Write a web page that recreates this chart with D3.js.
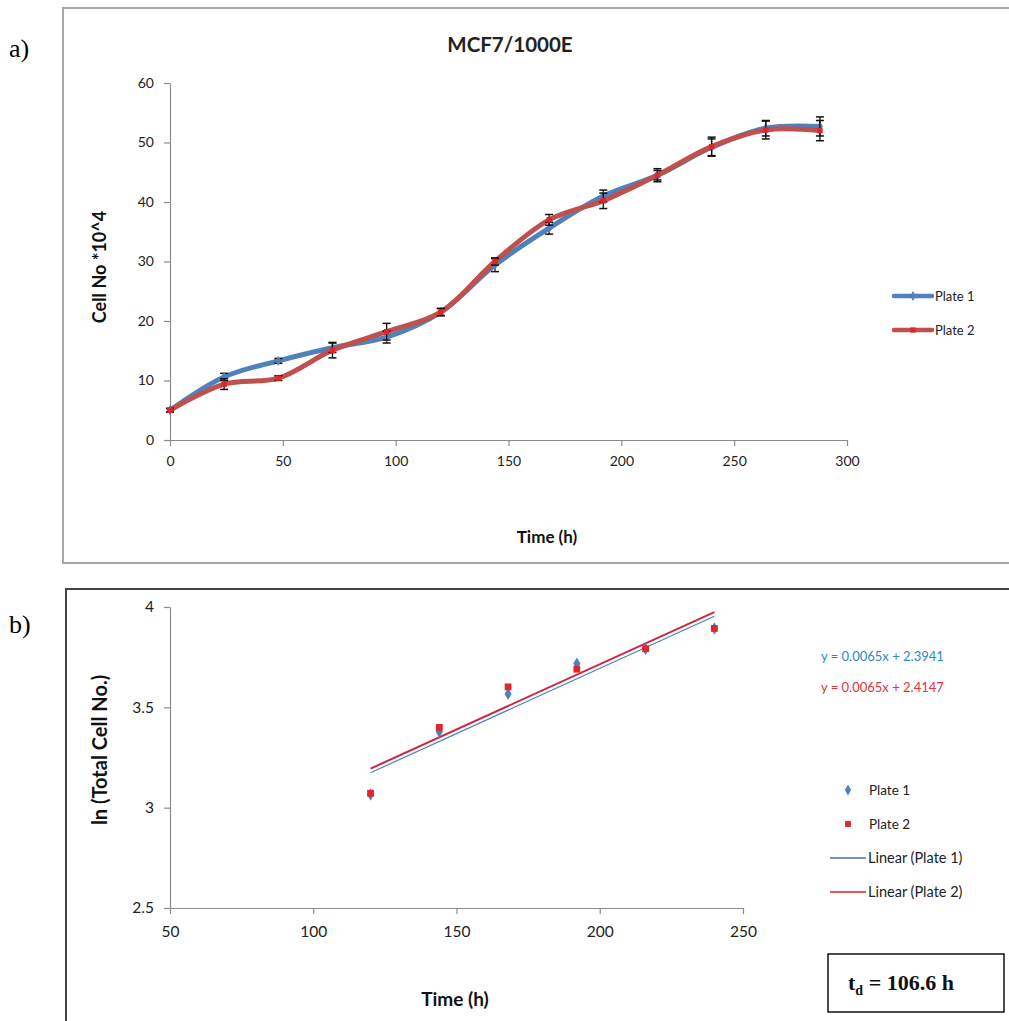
<!DOCTYPE html>
<html>
<head>
<meta charset="utf-8">
<script src="https://cdn.jsdelivr.net/npm/d3@7/dist/d3.min.js"></script>
<style>
  html, body { margin: 0; padding: 0; background: #fff; }
  svg { display: block; }
  text { font-family: Lato, "Open Sans", "Noto Sans", sans-serif; }
</style>
</head>
<body>
<svg id="fig" width="1009" height="1021"></svg>
<script>
// ---- Growth curve (panel a) ----
const hours = [0, 24, 48, 72, 96, 120, 144, 168, 192, 216, 240, 264, 288];
const plate1Cells = [5.0, 10.6, 13.3, 15.5, 17.3, 21.5, 29.4, 35.6, 41.0, 44.5, 49.2, 52.4, 52.7];
const plate1Err   = [0.3, 0.6, 0.4, 0.8, 1.0, 0.6, 1.1, 1.0, 1.0, 0.8, 1.4, 1.3, 1.6];
const plate2Cells = [5.0, 9.4, 10.4, 15.1, 18.2, 21.5, 30.0, 37.0, 40.2, 44.5, 49.3, 52.1, 52.0];
const plate2Err   = [0.3, 0.9, 0.4, 1.3, 1.4, 0.6, 0.6, 0.9, 1.3, 1.1, 1.6, 1.5, 1.7];
const growthXTicks = [0, 50, 100, 150, 200, 250, 300];
const growthYTicks = [0, 10, 20, 30, 40, 50, 60];

// ---- Log-phase fit (panel b) ----
const logHours = [120, 144, 168, 192, 216, 240];
const plate1Ln = [3.065, 3.378, 3.567, 3.718, 3.792, 3.893];
const plate2Ln = [3.072, 3.400, 3.602, 3.690, 3.792, 3.893];
const fitSlope = [0.0065, 0.0065];
const fitIntercept = [2.3941, 2.4147];
const logXTicks = [50, 100, 150, 200, 250];
const logYTicks = [2.5, 3, 3.5, 4];
const doublingTime = 106.6;

const BLUE = "#4f81bd", RED = "#c0504d", RED_MK = "#e0262b";
const svg = d3.select("#fig");

// panel frames and letters
svg.append("rect").attr("x", 63).attr("y", 8).attr("width", 1000).attr("height", 555)
  .attr("fill", "none").attr("stroke", "#a8a8a8").attr("stroke-width", 2);
svg.append("rect").attr("x", 66).attr("y", 589).attr("width", 1000).attr("height", 500)
  .attr("fill", "none").attr("stroke", "#444").attr("stroke-width", 2);
svg.append("text").attr("x", 9).attr("y", 57).text("a)")
  .style("font-family", "'Liberation Serif', serif").style("font-size", "26px");
svg.append("text").attr("x", 9).attr("y", 633).text("b)")
  .style("font-family", "'Liberation Serif', serif").style("font-size", "26px");

function styleAxis(g, size) {
  g.selectAll(".domain").attr("stroke", "#8c8c8c").attr("stroke-width", 1.2);
  g.selectAll(".tick line").attr("stroke", "#8c8c8c").attr("stroke-width", 1.2);
  g.selectAll(".tick text").attr("fill", "#222").style("font-size", size + "px")
    .style("font-family", "Lato, 'Open Sans', sans-serif");
}

// ================= Panel a =================
const xA = d3.scaleLinear().domain([0, 300]).range([170, 847]);
const yA = d3.scaleLinear().domain([0, 60]).range([440, 83]);

const gxA = svg.append("g").attr("transform", `translate(0,${yA(0)})`)
  .call(d3.axisBottom(xA).tickValues(growthXTicks).tickSize(6).tickPadding(10).tickSizeOuter(0));
styleAxis(gxA, 14);
const gyA = svg.append("g").attr("transform", `translate(${xA(0)},0)`)
  .call(d3.axisLeft(yA).tickValues(growthYTicks).tickSize(6).tickPadding(10).tickSizeOuter(0));
styleAxis(gyA, 14);

svg.append("text").attr("x", 510).attr("y", 52).attr("text-anchor", "middle")
  .style("font-size", "20.5px").style("font-weight", "bold").attr("fill", "#222").text("MCF7/1000E");
svg.append("text").attr("transform", "translate(106,267) rotate(-90)").attr("text-anchor", "middle")
  .style("font-size", "18px").style("font-weight", "bold").attr("fill", "#111").text("Cell No *10^4");
svg.append("text").attr("x", 547).attr("y", 543).attr("text-anchor", "middle")
  .style("font-size", "17px").style("font-weight", "bold").attr("fill", "#111").text("Time (h)");

const seriesA = [
  { name: "Plate 1", vals: plate1Cells, err: plate1Err, color: BLUE, mk: BLUE, sym: d3.symbolDiamond },
  { name: "Plate 2", vals: plate2Cells, err: plate2Err, color: RED, mk: RED_MK, sym: d3.symbolSquare }
];
const lineA = d3.line().x(d => xA(d[0])).y(d => yA(d[1])).curve(d3.curveCatmullRom.alpha(0.5));

seriesA.forEach(s => {
  const pts = hours.map((h, i) => [h, s.vals[i]]);
  svg.append("path").attr("d", lineA(pts)).attr("fill", "none")
    .attr("stroke", s.color).attr("stroke-width", 5).attr("stroke-linejoin", "round")
    .attr("stroke-linecap", "round");
});
seriesA.forEach(s => {
  const g = svg.append("g");
  hours.forEach((h, i) => {
    const x = xA(h), y0 = yA(s.vals[i] - s.err[i]), y1 = yA(s.vals[i] + s.err[i]);
    g.append("line").attr("x1", x).attr("x2", x).attr("y1", y0).attr("y2", y1)
      .attr("stroke", "#111").attr("stroke-width", 1.3);
    [y0, y1].forEach(y => g.append("line").attr("x1", x - 4).attr("x2", x + 4)
      .attr("y1", y).attr("y2", y).attr("stroke", "#111").attr("stroke-width", 1.5));
  });
  hours.forEach((h, i) => {
    g.append("path").attr("d", d3.symbol(s.sym, 30)())
      .attr("transform", `translate(${xA(h)},${yA(s.vals[i])})`).attr("fill", s.mk);
  });
});

// legend a
seriesA.forEach((s, i) => {
  const y = 296 + i * 34;
  svg.append("line").attr("x1", 894).attr("x2", 932).attr("y1", y).attr("y2", y)
    .attr("stroke", s.color).attr("stroke-width", 4.5).attr("stroke-linecap", "round");
  svg.append("path").attr("d", d3.symbol(s.sym, 28)()).attr("transform", `translate(913,${y})`).attr("fill", s.mk);
  svg.append("text").attr("x", 935).attr("y", y + 4.5).style("font-size", "13px").attr("fill", "#222").text(s.name);
});

// ================= Panel b =================
const xB = d3.scaleLinear().domain([50, 250]).range([170, 743]);
const yB = d3.scaleLinear().domain([2.5, 4]).range([908, 607]);

const gxB = svg.append("g").attr("transform", `translate(0,${yB(2.5)})`)
  .call(d3.axisBottom(xB).tickValues(logXTicks).tickSize(6).tickPadding(12).tickSizeOuter(0));
styleAxis(gxB, 15.5);
const gyB = svg.append("g").attr("transform", `translate(${xB(50)},0)`)
  .call(d3.axisLeft(yB).tickValues(logYTicks).tickFormat(d3.format("")).tickSize(6).tickPadding(10).tickSizeOuter(0));
styleAxis(gyB, 15.5);

svg.append("text").attr("transform", "translate(107,750) rotate(-90)").attr("text-anchor", "middle")
  .style("font-size", "20px").style("font-weight", "bold").attr("fill", "#111").text("ln (Total Cell No.)");
svg.append("text").attr("x", 455).attr("y", 1006).attr("text-anchor", "middle")
  .style("font-size", "19px").style("font-weight", "bold").attr("fill", "#111").text("Time (h)");

// linear fits
const fitColors = [BLUE, "#d0243a"];
[0, 1].forEach(k => {
  const x0 = d3.min(logHours), x1 = d3.max(logHours);
  svg.append("line")
    .attr("x1", xB(x0)).attr("y1", yB(fitSlope[k] * x0 + fitIntercept[k]))
    .attr("x2", xB(x1)).attr("y2", yB(fitSlope[k] * x1 + fitIntercept[k]))
    .attr("stroke", fitColors[k]).attr("stroke-width", k ? 2 : 1.2);
});

// points
logHours.forEach((h, i) => {
  svg.append("path").attr("d", d3.symbol(d3.symbolDiamond, 44)())
    .attr("transform", `translate(${xB(h)},${yB(plate1Ln[i])})`).attr("fill", BLUE);
});
logHours.forEach((h, i) => {
  svg.append("path").attr("d", d3.symbol(d3.symbolSquare, 46)())
    .attr("transform", `translate(${xB(h)},${yB(plate2Ln[i])})`).attr("fill", RED_MK);
});

// equations
const fmtEq = k => `y = ${fitSlope[k]}x + ${fitIntercept[k].toFixed(4)}`;
svg.append("text").attr("x", 821).attr("y", 661).style("font-size", "13px").attr("fill", "#2f86c6").text(fmtEq(0));
svg.append("text").attr("x", 821).attr("y", 692).style("font-size", "13px").attr("fill", "#e2323a").text(fmtEq(1));

// legend b
svg.append("path").attr("d", d3.symbol(d3.symbolDiamond, 34)()).attr("transform", "translate(848,790)").attr("fill", BLUE);
svg.append("text").attr("x", 869).attr("y", 795).style("font-size", "13.5px").attr("fill", "#222").text("Plate 1");
svg.append("path").attr("d", d3.symbol(d3.symbolSquare, 34)()).attr("transform", "translate(848,824)").attr("fill", RED_MK);
svg.append("text").attr("x", 869).attr("y", 829).style("font-size", "13.5px").attr("fill", "#222").text("Plate 2");
[["Linear (Plate 1)", "#4a6fa5", 858], ["Linear (Plate 2)", "#d8202e", 892]].forEach(([t, c, y]) => {
  svg.append("line").attr("x1", 830).attr("x2", 866).attr("y1", y).attr("y2", y).attr("stroke", c).attr("stroke-width", 1.5);
  svg.append("text").attr("x", 868).attr("y", y + 5).style("font-size", "14.5px").attr("fill", "#222").text(t);
});

// doubling time box
svg.append("rect").attr("x", 828).attr("y", 954).attr("width", 176).attr("height", 58)
  .attr("fill", "#fff").attr("stroke", "#111").attr("stroke-width", 1.5);
const td = svg.append("text").attr("x", 848).attr("y", 990)
  .style("font-family", "'Liberation Serif', serif").style("font-size", "22px").style("font-weight", "bold").attr("fill", "#111");
td.append("tspan").text("t");
td.append("tspan").attr("dy", 5).style("font-size", "14px").text("d");
td.append("tspan").attr("dy", -5).text(` = ${doublingTime} h`);
</script>
</body>
</html>
